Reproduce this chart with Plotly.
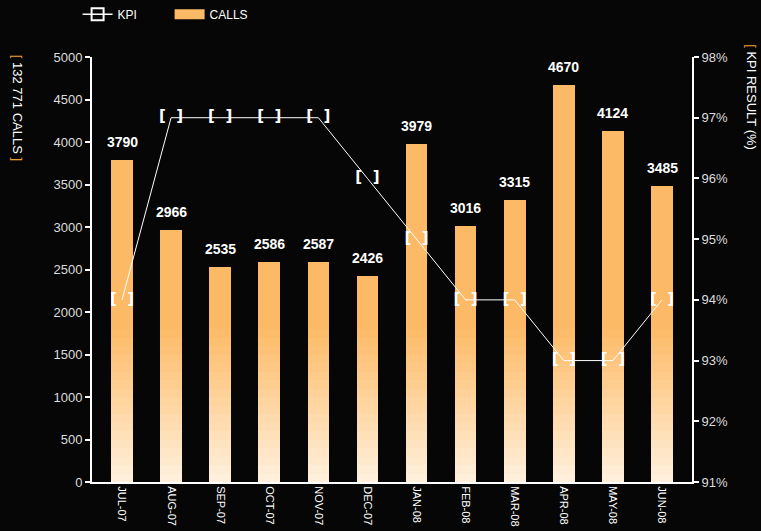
import plotly.graph_objects as go

months = ["JUL-07", "AUG-07", "SEP-07", "OCT-07", "NOV-07", "DEC-07",
          "JAN-08", "FEB-08", "MAR-08", "APR-08", "MAY-08", "JUN-08"]
calls = [3790, 2966, 2535, 2586, 2587, 2426, 3979, 3016, 3315, 4670, 4124, 3485]
kpi = [94, 97, 97, 97, 97, 96, 95, 94, 94, 93, 93, 94]
left_ticks = [0, 500, 1000, 1500, 2000, 2500, 3000, 3500, 4000, 4500, 5000]
right_ticks = [91, 92, 93, 94, 95, 96, 97, 98]

FONT = "Liberation Sans, Arial, sans-serif"
TOP = (253, 186, 102)
BOTTOM = (255, 241, 222)

fig = go.Figure()

# gradient bars: stacked slices with colour fading towards the bottom
step = 100
solid_from = 1800
bounds = list(range(0, solid_from + step, step))
for i in range(len(bounds)):
    lo = bounds[i]
    hi = bounds[i + 1] if i + 1 < len(bounds) else max(calls)
    t = min(1.0, (lo + step / 2) / solid_from) if i + 1 < len(bounds) else 1.0
    col = tuple(round(BOTTOM[k] + (TOP[k] - BOTTOM[k]) * t) for k in range(3))
    seg = [max(0, min(v, hi) - lo) for v in calls]
    fig.add_trace(go.Bar(
        x=months, y=seg, marker=dict(color="rgb(%d,%d,%d)" % col, line=dict(width=0)),
        showlegend=False, hoverinfo="skip"))

# legend entries
fig.add_trace(go.Scatter(
    x=[None], y=[None], mode="lines+markers", name="KPI",
    line=dict(color="white", width=1.5),
    marker=dict(symbol="square-open", size=12, color="white", line=dict(width=2)),
    yaxis="y2"))
fig.add_trace(go.Scatter(x=[None], y=[None], mode="lines", name="CALLS",
                         line=dict(color="rgb(253,186,102)", width=10)))

# KPI line with bracket markers
fig.add_trace(go.Scatter(
    x=months, y=kpi, mode="lines+text", text=["<b>[\u2002\u2009]</b>"] * len(kpi),
    textposition="middle center",
    textfont=dict(family="DejaVu Sans", size=15, color="#ffffff"),
    line=dict(color="white", width=1), yaxis="y2", showlegend=False))

annotations = []
for m, v in zip(months, calls):
    annotations.append(dict(x=m, y=v, text="<b>%d</b>" % v, showarrow=False, yanchor="bottom",
                            yshift=8, font=dict(family=FONT, size=14, color="white")))

annotations.append(dict(
    xref="paper", yref="paper", x=-0.123, y=0.88, xanchor="center", yanchor="middle",
    textangle=90, showarrow=False,
    text="<span style='color:#f0a030'>[</span> 132 771 CALLS <span style='color:#f0a030'>]</span>",
    font=dict(family=FONT, size=13, color="white")))
annotations.append(dict(
    xref="paper", yref="paper", x=1.098, y=0.906, xanchor="center", yanchor="middle",
    textangle=90, showarrow=False,
    text="<span style='color:#f0a030'>[</span> KPI RESULT (%)",
    font=dict(family=FONT, size=13, color="white")))

fig.update_layout(
    width=761, height=531,
    margin=dict(l=92, r=69, t=57, b=49, autoexpand=False),
    paper_bgcolor="#060606", plot_bgcolor="#060606",
    barmode="stack", bargap=0.56,
    font=dict(family=FONT, color="white"),
    showlegend=True,
    legend=dict(orientation="h", x=-0.024, y=1.135, xanchor="left", yanchor="top",
                traceorder="normal", entrywidth=47, entrywidthmode="pixels",
                font=dict(family=FONT, size=12, color="white"),
                bgcolor="rgba(0,0,0,0)"),
    xaxis=dict(type="category", showgrid=False, zeroline=False,
               showline=True, linecolor="white", linewidth=2,
               tickangle=90, tickfont=dict(family=FONT, size=11, color="white"),
               ticks="", ticklen=0),
    yaxis=dict(range=[0, 5000], tickvals=left_ticks, showgrid=False, zeroline=False,
               showline=True, linecolor="white", linewidth=2,
               ticks="outside", ticklen=5, tickwidth=2, tickcolor="white",
               tickfont=dict(family=FONT, size=13, color="#dddddd")),
    yaxis2=dict(range=[91, 98], tickvals=right_ticks,
                ticktext=["%d%%" % t for t in right_ticks],
                overlaying="y", side="right", showgrid=False, zeroline=False,
                showline=True, linecolor="white", linewidth=2,
                ticks="outside", ticklen=5, tickwidth=2, tickcolor="white",
                tickfont=dict(family=FONT, size=13, color="#dddddd")),
    annotations=annotations,
)

fig.write_html("out.html", config={"displayModeBar": False},
               post_script="document.body.style.margin='0';")
